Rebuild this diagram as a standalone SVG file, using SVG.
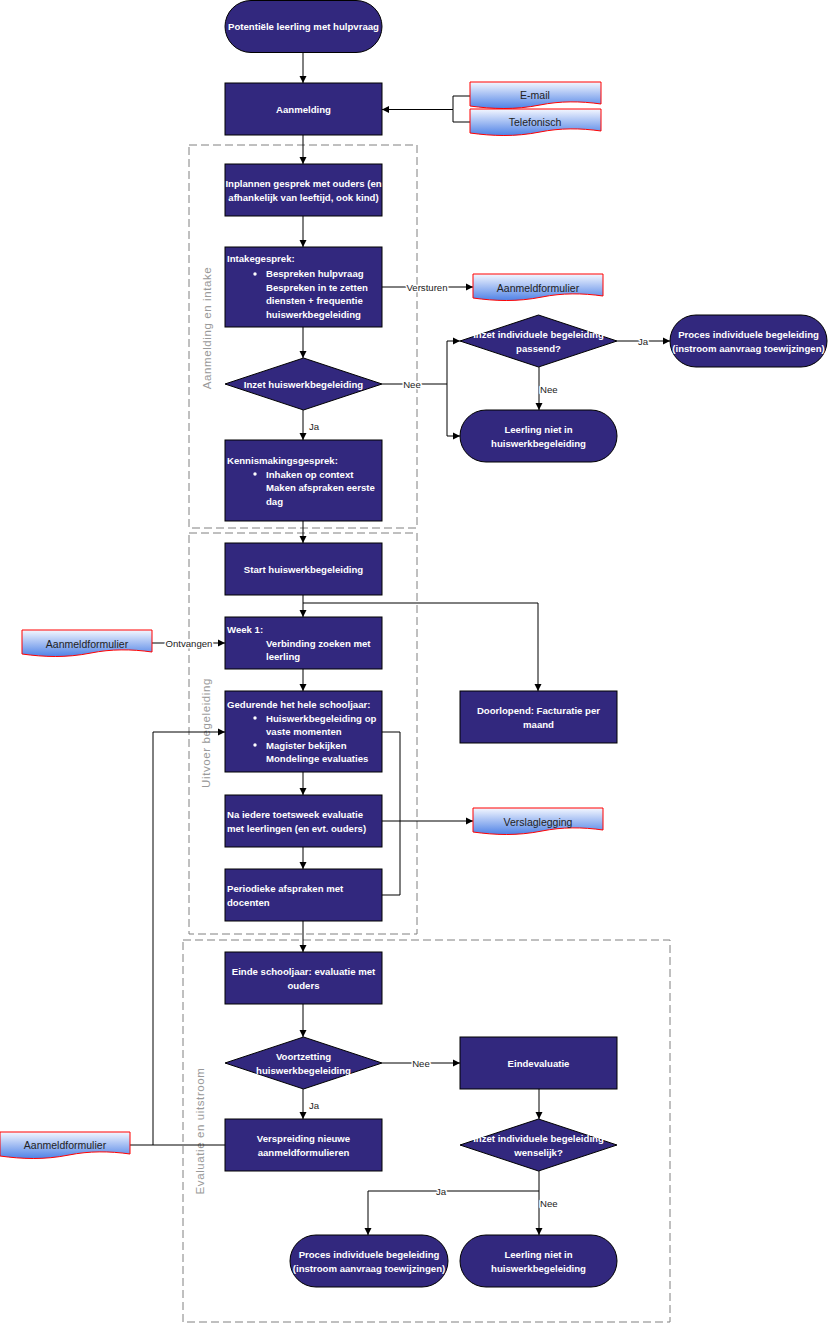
<svg xmlns="http://www.w3.org/2000/svg" width="828" height="1325" viewBox="0 0 828 1325">
<defs>
<linearGradient id="docg" x1="0" y1="0" x2="0" y2="1">
<stop offset="0" stop-color="#f4f7ff"/>
<stop offset="1" stop-color="#4f82e6"/>
</linearGradient>
<marker id="arr" markerWidth="8" markerHeight="8" refX="7" refY="4" orient="auto" markerUnits="userSpaceOnUse">
<path d="M0,0.5 L7,4 L0,7.5 Z" fill="#000"/>
</marker>
</defs>
<style>
.box{fill:#32287e;stroke:#000;stroke-width:1}
.doc{fill:url(#docg);stroke:#ff0000;stroke-width:1}
.t{font-family:"Liberation Sans",Arial,sans-serif;font-size:9.6px;font-weight:bold;fill:#fff}
.c{text-anchor:middle}
.dt{font-family:"Liberation Sans",Arial,sans-serif;font-size:10.5px;fill:#222;text-anchor:middle}
.lbl{font-family:"Liberation Sans",Arial,sans-serif;font-size:9.6px;fill:#222;stroke:#fff;stroke-width:3px;paint-order:stroke;stroke-linejoin:round}
.lane{fill:none;stroke:#808080;stroke-width:1;stroke-dasharray:8,4}
.lt{font-family:"Liberation Sans",Arial,sans-serif;font-size:11.5px;fill:#999;text-anchor:middle;letter-spacing:0.6px}
.con{fill:none;stroke:#000;stroke-width:1}
</style>

<g id="lanes">
<rect class="lane" x="189" y="145" width="228" height="383"/>
<text class="lt" transform="translate(211,328) rotate(-90)">Aanmelding en intake</text>
<rect class="lane" x="189" y="533" width="228" height="401"/>
<text class="lt" transform="translate(210,733) rotate(-90)">Uitvoer begeleiding</text>
<rect class="lane" x="183" y="940" width="487" height="382"/>
<text class="lt" transform="translate(204,1131) rotate(-90)">Evaluatie en uitstroom</text>
</g>

<g id="connectors">
<path class="con" d="M303,52 V83" marker-end="url(#arr)"/>
<path class="con" d="M470,96 H453 V109.5 H382" marker-end="url(#arr)"/>
<path class="con" d="M470,122 H453 V109.5"/>
<path class="con" d="M303,135 V164" marker-end="url(#arr)"/>
<path class="con" d="M303,216 V247" marker-end="url(#arr)"/>
<path class="con" d="M382,287 H473" marker-end="url(#arr)"/>
<path class="con" d="M303,327 V358" marker-end="url(#arr)"/>
<path class="con" d="M382,384 H447 V341 H460" marker-end="url(#arr)"/>
<path class="con" d="M447,384 V436 H460" marker-end="url(#arr)"/>
<path class="con" d="M617,341 H670" marker-end="url(#arr)"/>
<path class="con" d="M539,367 V410" marker-end="url(#arr)"/>
<path class="con" d="M303,410 V440" marker-end="url(#arr)"/>
<path class="con" d="M303,521 V543" marker-end="url(#arr)"/>
<path class="con" d="M303,595 V617" marker-end="url(#arr)"/>
<path class="con" d="M303,603 H538 V691" marker-end="url(#arr)"/>
<path class="con" d="M152,643 H225" marker-end="url(#arr)"/>
<path class="con" d="M303,669 V691" marker-end="url(#arr)"/>
<path class="con" d="M382,732 H400 V895 H382"/>
<path class="con" d="M303,772 V795" marker-end="url(#arr)"/>
<path class="con" d="M382,821 H473" marker-end="url(#arr)"/>
<path class="con" d="M303,847 V869" marker-end="url(#arr)"/>
<path class="con" d="M303,921 V952" marker-end="url(#arr)"/>
<path class="con" d="M303,1004 V1037" marker-end="url(#arr)"/>
<path class="con" d="M382,1063 H460" marker-end="url(#arr)"/>
<path class="con" d="M303,1089 V1119" marker-end="url(#arr)"/>
<path class="con" d="M539,1089 V1119" marker-end="url(#arr)"/>
<path class="con" d="M539,1171 V1191 H368 V1235" marker-end="url(#arr)"/>
<path class="con" d="M539,1191 V1235" marker-end="url(#arr)"/>
<path class="con" d="M225,1145 H153 V732 H225" marker-end="url(#arr)"/>
<path class="con" d="M130,1145 H153"/>
<text class="lbl" x="427" y="290.5" text-anchor="middle">Versturen</text>
<text class="lbl" x="412" y="387.5" text-anchor="middle">Nee</text>
<text class="lbl" x="643" y="344.5" text-anchor="middle">Ja</text>
<text class="lbl" x="540" y="392.5">Nee</text>
<text class="lbl" x="309" y="429.5">Ja</text>
<text class="lbl" x="189" y="646.5" text-anchor="middle">Ontvangen</text>
<text class="lbl" x="421" y="1066.5" text-anchor="middle">Nee</text>
<text class="lbl" x="309" y="1108.5">Ja</text>
<text class="lbl" x="441" y="1194.5" text-anchor="middle">Ja</text>
<text class="lbl" x="540" y="1206.5">Nee</text>
</g>

<g id="n-start">
<rect class="box" x="225" y="0.5" width="157" height="52" rx="26"/>
<text class="t c" x="303.5" y="30">Potentiële leerling met hulpvraag</text>
</g>
<g id="n-aanmelding">
<rect class="box" x="225" y="83" width="157" height="52"/>
<text class="t c" x="303.5" y="112.5">Aanmelding</text>
</g>
<g id="n-email">
<path class="doc" d="M470,82 H601 V104 C580,101 560,101 540,105 C515,110 492,109 470,106 Z"/>
<text class="dt" x="535" y="98.5">E-mail</text>
</g>
<g id="n-telefonisch">
<path class="doc" d="M470,109 H601 V131 C580,128 560,128 540,132 C515,137 492,136 470,133 Z"/>
<text class="dt" x="535" y="125.5">Telefonisch</text>
</g>
<g id="n-inplannen">
<rect class="box" x="225" y="164" width="157" height="52"/>
<text class="t c" x="303.5" y="187">Inplannen gesprek met ouders (en</text>
<text class="t c" x="303.5" y="201">afhankelijk van leeftijd, ook kind)</text>
</g>
<g id="n-intake">
<rect class="box" x="225" y="247" width="157" height="80"/>
<text class="t" x="227" y="262">Intakegesprek:</text>
<circle cx="255" cy="274" r="1.7" fill="#fff"/>
<text class="t" x="266" y="277">Bespreken hulpvraag</text>
<text class="t" x="266" y="290.5">Bespreken in te zetten</text>
<text class="t" x="266" y="304">diensten + frequentie</text>
<text class="t" x="266" y="317.5">huiswerkbegeleiding</text>
</g>
<g id="n-aanmeldformulier1">
<path class="doc" d="M473,274 H603 V296 C582,293 562,293 542,297 C517,302 495,301 473,298 Z"/>
<text class="dt" x="538" y="291.5">Aanmeldformulier</text>
</g>
<g id="n-inzet-hwb">
<polygon class="box" points="303.5,358 382,384 303.5,410 225,384"/>
<text class="t c" x="303.5" y="387.5">Inzet huiswerkbegeleiding</text>
</g>
<g id="n-inzet-ind">
<polygon class="box" points="538.5,315 617,341 538.5,367 460,341"/>
<text class="t c" x="538.5" y="338">Inzet individuele begeleiding</text>
<text class="t c" x="538.5" y="352">passend?</text>
</g>
<g id="n-proces1">
<rect class="box" x="670" y="315" width="157" height="52" rx="26"/>
<text class="t c" x="748.5" y="338">Proces individuele begeleiding</text>
<text class="t c" x="748.5" y="352">(instroom aanvraag toewijzingen)</text>
</g>
<g id="n-niet1">
<rect class="box" x="460" y="410" width="157" height="52" rx="26"/>
<text class="t c" x="538.5" y="433">Leerling niet in</text>
<text class="t c" x="538.5" y="447">huiswerkbegeleiding</text>
</g>
<g id="n-kennis">
<rect class="box" x="225" y="440" width="157" height="81"/>
<text class="t" x="227" y="464">Kennismakingsgesprek:</text>
<circle cx="255" cy="474" r="1.7" fill="#fff"/>
<text class="t" x="266" y="477.5">Inhaken op context</text>
<text class="t" x="266" y="491">Maken afspraken eerste</text>
<text class="t" x="266" y="505">dag</text>
</g>
<g id="n-starthwb">
<rect class="box" x="225" y="543" width="157" height="52"/>
<text class="t c" x="303.5" y="572.5">Start huiswerkbegeleiding</text>
</g>
<g id="n-week1">
<rect class="box" x="225" y="617" width="157" height="52"/>
<text class="t" x="227" y="633">Week 1:</text>
<text class="t" x="266" y="646.5">Verbinding zoeken met</text>
<text class="t" x="266" y="660">leerling</text>
</g>
<g id="n-aanmeldformulier2">
<path class="doc" d="M22,630 H152 V652 C131,649 111,649 91,653 C66,658 44,657 22,654 Z"/>
<text class="dt" x="87" y="647.5">Aanmeldformulier</text>
</g>
<g id="n-doorlopend">
<rect class="box" x="460" y="691" width="157" height="52"/>
<text class="t c" x="538.5" y="714">Doorlopend: Facturatie per</text>
<text class="t c" x="538.5" y="728">maand</text>
</g>
<g id="n-gedurende">
<rect class="box" x="225" y="691" width="157" height="81"/>
<text class="t" x="227" y="708">Gedurende het hele schooljaar:</text>
<circle cx="255" cy="718" r="1.7" fill="#fff"/>
<text class="t" x="266" y="721.5">Huiswerkbegeleiding op</text>
<text class="t" x="266" y="735">vaste momenten</text>
<circle cx="255" cy="745" r="1.7" fill="#fff"/>
<text class="t" x="266" y="748.5">Magister bekijken</text>
<text class="t" x="266" y="762">Mondelinge evaluaties</text>
</g>
<g id="n-na-toetsweek">
<rect class="box" x="225" y="795" width="157" height="52"/>
<text class="t" x="227" y="818">Na iedere toetsweek evaluatie</text>
<text class="t" x="227" y="832">met leerlingen (en evt. ouders)</text>
</g>
<g id="n-verslaglegging">
<path class="doc" d="M473,808 H603 V830 C582,827 562,827 542,831 C517,836 495,835 473,832 Z"/>
<text class="dt" x="538" y="825.5">Verslaglegging</text>
</g>
<g id="n-periodieke">
<rect class="box" x="225" y="869" width="157" height="52"/>
<text class="t" x="227" y="892">Periodieke afspraken met</text>
<text class="t" x="227" y="905.5">docenten</text>
</g>
<g id="n-einde">
<rect class="box" x="225" y="952" width="157" height="52"/>
<text class="t c" x="303.5" y="975">Einde schooljaar: evaluatie met</text>
<text class="t c" x="303.5" y="989">ouders</text>
</g>
<g id="n-voortzetting">
<polygon class="box" points="303.5,1037 382,1063 303.5,1089 225,1063"/>
<text class="t c" x="303.5" y="1060">Voortzetting</text>
<text class="t c" x="303.5" y="1074">huiswerkbegeleiding</text>
</g>
<g id="n-eindevaluatie">
<rect class="box" x="460" y="1037" width="157" height="52"/>
<text class="t c" x="538.5" y="1066.5">Eindevaluatie</text>
</g>
<g id="n-verspreiding">
<rect class="box" x="225" y="1119" width="157" height="52"/>
<text class="t c" x="303.5" y="1142">Verspreiding nieuwe</text>
<text class="t c" x="303.5" y="1156">aanmeldformulieren</text>
</g>
<g id="n-aanmeldformulier3">
<path class="doc" d="M0,1132 H130 V1154 C109,1151 89,1151 69,1155 C44,1160 22,1159 0,1156 Z"/>
<text class="dt" x="65" y="1148.5">Aanmeldformulier</text>
</g>
<g id="n-inzet-wens">
<polygon class="box" points="538.5,1119 617,1145 538.5,1171 460,1145"/>
<text class="t c" x="538.5" y="1142">Inzet individuele begeleiding</text>
<text class="t c" x="538.5" y="1156">wenselijk?</text>
</g>
<g id="n-proces2">
<rect class="box" x="290" y="1235" width="158" height="52" rx="26"/>
<text class="t c" x="369" y="1258">Proces individuele begeleiding</text>
<text class="t c" x="369" y="1272">(instroom aanvraag toewijzingen)</text>
</g>
<g id="n-niet2">
<rect class="box" x="460" y="1235" width="157" height="52" rx="26"/>
<text class="t c" x="538.5" y="1258">Leerling niet in</text>
<text class="t c" x="538.5" y="1272">huiswerkbegeleiding</text>
</g>
</svg>
